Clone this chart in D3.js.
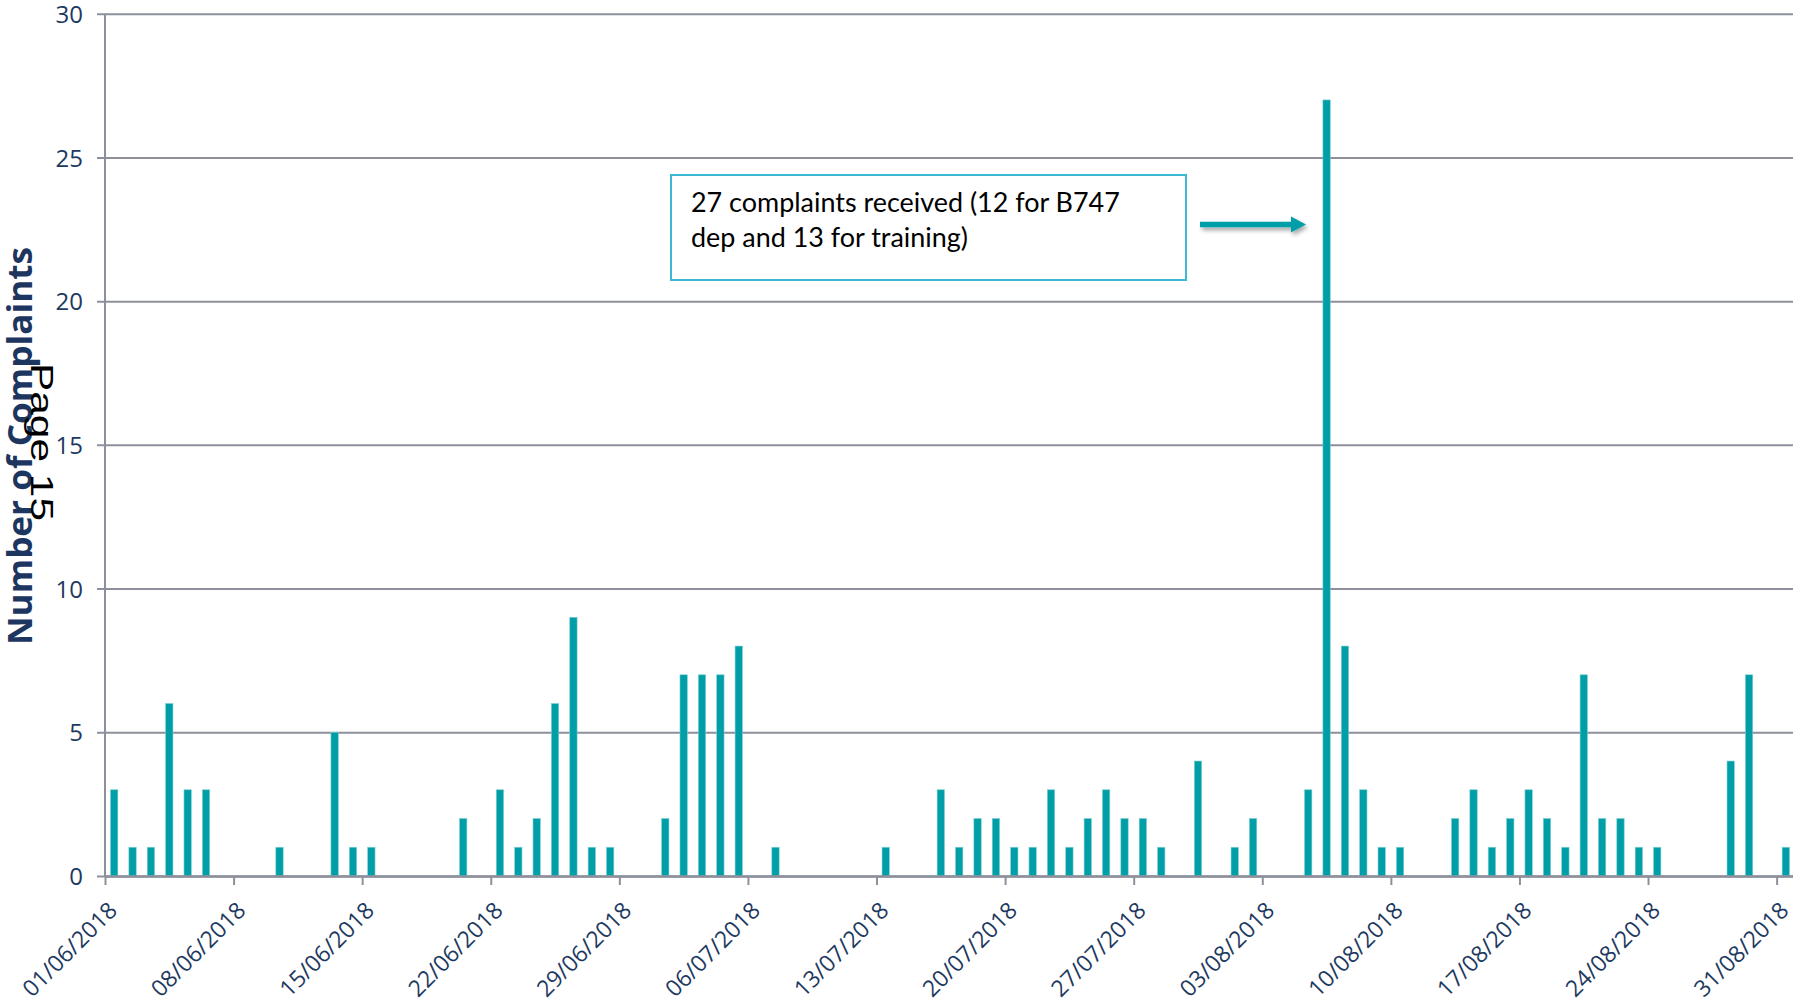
<!DOCTYPE html>
<html>
<head>
<meta charset="utf-8">
<script src="https://cdn.jsdelivr.net/npm/d3@7"></script>
<style>
  html, body { margin: 0; padding: 0; background: #ffffff; }
  svg { display: block; }
</style>
</head>
<body>
<svg id="chart" width="1793" height="1004"></svg>
<script>
// ---- DATA ----
const startDate = "2018-06-01";
const endDate = "2018-09-01"; // exclusive
const juneValues = [3,1,1,6,3,3,0,0,0,1,0,0,5,1,1,0,0,0,0,2,0,3,1,2,6,9,1,1,0,0];
const julyValues = [2,7,7,7,8,0,1,0,0,0,0,0,1,0,0,3,1,2,2,1,1,3,1,2,3,2,2,1,0,4,0];
const augustValues = [1,2,0,0,3,27,8,3,1,1,0,0,2,3,1,2,3,2,1,7,2,2,1,1,0,0,0,4,7,0,1];
const tickLabels = ["01/06/2018","08/06/2018","15/06/2018","22/06/2018","29/06/2018","06/07/2018","13/07/2018","20/07/2018","27/07/2018","03/08/2018","10/08/2018","17/08/2018","24/08/2018","31/08/2018"];
const yTicks = [0,5,10,15,20,25,30];
const yTitle = "Number of Complaints";
const annotationLines = ["27 complaints received (12 for B747", "dep and 13 for training)"];
const pageText = "Page 15";

// ---- LAYOUT ----
const W = 1793, H = 1004;
const mLeft = 105, mRight = 1795, mTop = 13.7, mBottom = 876;
const barColor = "#009ea6";
const gridColor = "#8d909b";
const labelColor = "#1d3960";

const parse = d3.timeParse("%Y-%m-%d");
const parseLabel = d3.timeParse("%d/%m/%Y");
const days = d3.timeDay.range(parse(startDate), parse(endDate));
const values = juneValues.concat(julyValues, augustValues);
const data = days.map((d, i) => ({date: d, value: values[i]}));

const x = d3.scaleTime().domain([parse(startDate), parse(endDate)]).range([mLeft, mRight]);
const y = d3.scaleLinear().domain([0, 30]).range([mBottom, mTop]);
const band = x(d3.timeDay.offset(parse(startDate), 1)) - x(parse(startDate));
const barW = band * 0.4;

const svg = d3.select("#chart");

// defs: shadow for arrow
const defs = svg.append("defs");
const f = defs.append("filter").attr("id", "shadow").attr("x", "-20%").attr("y", "-50%").attr("width", "140%").attr("height", "250%");
f.append("feDropShadow").attr("dx", 2).attr("dy", 3).attr("stdDeviation", 2).attr("flood-color", "#000").attr("flood-opacity", 0.35);

// gridlines + y axis
const yAxis = d3.axisLeft(y).tickValues(yTicks).tickSize(0).tickPadding(0);
const gy = svg.append("g").attr("transform", `translate(${mLeft},0)`).call(yAxis);
gy.select(".domain").remove();
gy.selectAll(".tick text")
  .attr("x", -22)
  .attr("dy", "0.36em")
  .style("font-family", "'Open Sans', sans-serif")
  .style("font-size", "24px")
  .style("fill", labelColor);
gy.selectAll(".tick").append("line")
  .attr("x1", -8).attr("x2", W - mLeft)
  .attr("stroke", gridColor).attr("stroke-width", 2);

// left axis line
svg.append("line")
  .attr("x1", mLeft).attr("x2", mLeft).attr("y1", y(30)).attr("y2", y(0))
  .attr("stroke", gridColor).attr("stroke-width", 2);

// bars
svg.append("g").selectAll("rect").data(data.filter(d => d.value > 0)).join("rect")
  .attr("x", d => x(d.date) + band / 2 - barW / 2)
  .attr("width", barW)
  .attr("y", d => y(d.value))
  .attr("height", d => y(0) - y(d.value))
  .attr("fill", barColor)
  .attr("stroke", "#7fd0d4")
  .attr("stroke-width", 0.6);

// x axis
const xAxis = d3.axisBottom(x)
  .tickValues(tickLabels.map(parseLabel))
  .tickFormat(d3.timeFormat("%d/%m/%Y"))
  .tickSize(9).tickSizeOuter(0);
const gx = svg.append("g").attr("transform", `translate(0,${mBottom})`).call(xAxis);
gx.select(".domain").attr("stroke", gridColor).attr("stroke-width", 2.5);
gx.selectAll(".tick line").attr("stroke", gridColor).attr("stroke-width", 2);
gx.selectAll(".tick text")
  .attr("y", 0).attr("dy", 0)
  .attr("text-anchor", "end")
  .attr("transform", "translate(13,36) rotate(-45)")
  .style("font-family", "'Open Sans', sans-serif")
  .style("font-size", "23px")
  .style("fill", labelColor);

// y title
svg.append("text")
  .attr("transform", "translate(32,446) rotate(-90)")
  .attr("text-anchor", "middle")
  .attr("textLength", 398)
  .attr("lengthAdjust", "spacingAndGlyphs")
  .style("font-family", "'Open Sans', sans-serif")
  .style("font-weight", "700")
  .style("font-size", "34px")
  .style("fill", "#1d365f")
  .text(yTitle);

// page overlay text
svg.append("text")
  .attr("transform", "translate(31,442) rotate(90)")
  .attr("text-anchor", "middle")
  .attr("textLength", 158)
  .attr("lengthAdjust", "spacingAndGlyphs")
  .style("font-family", "'Liberation Sans', Arial, sans-serif")
  .style("font-size", "32px")
  .style("fill", "#000")
  .text(pageText);

// annotation box
svg.append("rect")
  .attr("x", 671).attr("y", 175).attr("width", 515).attr("height", 105)
  .attr("fill", "#fff").attr("stroke", "#3bb8d2").attr("stroke-width", 2);
const ann = svg.append("g");
ann.selectAll("text").data(annotationLines).join("text")
  .attr("x", 691)
  .attr("y", (d, i) => 212 + i * 35)
  .style("font-family", "Lato, sans-serif")
  .style("font-size", "27px")
  .style("fill", "#000")
  .text(d => d);
const first = ann.select("text").node();
const len = first.getComputedTextLength();
const fs = 27 * 429 / len;
ann.selectAll("text").style("font-size", fs + "px");

// arrow
const ay = 224.5;
svg.append("path")
  .attr("d", `M1200,${ay - 2.8} L1291,${ay - 2.8} L1291,${ay - 8} L1306,${ay} L1291,${ay + 8} L1291,${ay + 2.8} L1200,${ay + 2.8} Z`)
  .attr("fill", barColor)
  .attr("filter", "url(#shadow)");
</script>
</body>
</html>
